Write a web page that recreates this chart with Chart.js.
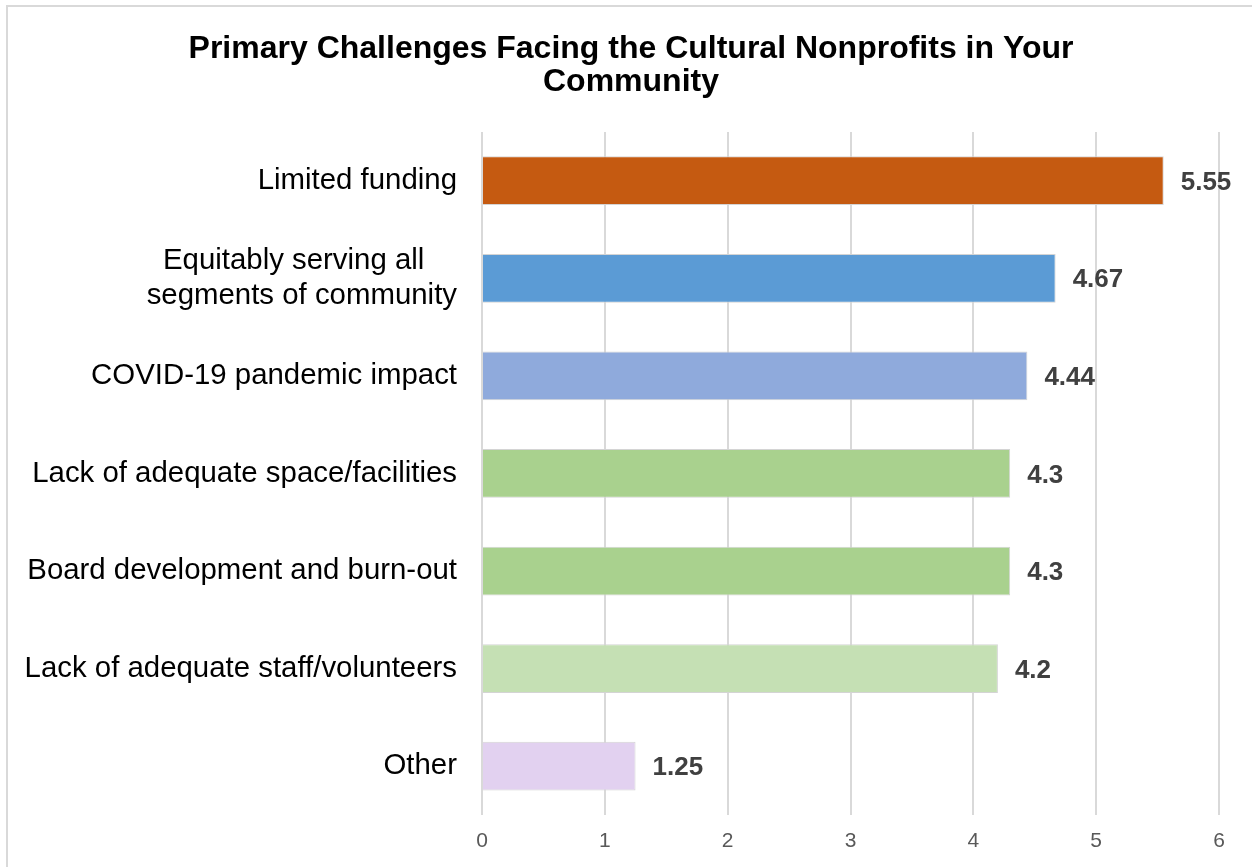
<!DOCTYPE html>
<html>
<head>
<meta charset="utf-8">
<script src="https://cdn.jsdelivr.net/npm/chart.js@4"></script>
<style>
  html, body { margin: 0; padding: 0; background: #fff; overflow: hidden; }
  #wrap { position: relative; width: 1252px; height: 867px; }
  #frame { position: absolute; left: 6px; top: 5px; width: 1300px; height: 900px;
           border: 2px solid #d9d9d9; pointer-events: none; }
</style>
</head>
<body>
<div id="wrap">
  <canvas id="myChart" width="1252" height="867"></canvas>
  <div id="frame"></div>
</div>
<script>
// categories (top to bottom) and their scores
let categories = [
    "Limited funding",
    ["Equitably serving all    ", "segments of community"],
    "COVID-19 pandemic impact",
    "Lack of adequate space/facilities",
    "Board development and burn-out",
    "Lack of adequate staff/volunteers",
    "Other"
];
let scores = [5.55, 4.67, 4.44, 4.3, 4.3, 4.2, 1.25];
let barColors = ["#C55A11", "#5B9BD5", "#8FAADC", "#A9D18E", "#A9D18E", "#C5E0B4", "#E2D1F0"];
let xTicks = [0, 1, 2, 3, 4, 5, 6];

// draws the number at the end of each bar
const valueLabels = {
    id: 'valueLabels',
    afterDatasetsDraw(chart) {
        let ctx = chart.ctx;
        let meta = chart.getDatasetMeta(0);
        ctx.save();
        ctx.font = "bold 26px 'Liberation Sans', Arial, sans-serif";
        ctx.fillStyle = "#404040";
        ctx.textAlign = "left";
        ctx.textBaseline = "middle";
        meta.data.forEach((bar, i) => {
            ctx.fillText(String(scores[i]), bar.x + 17, bar.y + 2);
        });
        ctx.restore();
    }
};

window.onload = function () {
    var ctx = document.getElementById('myChart').getContext('2d');
    var chart = new Chart(ctx, {
        type: 'bar',
        data: {
            labels: categories,
            datasets: [{
                data: scores,
                backgroundColor: barColors,
                borderColor: "#d4d4d4",
                borderWidth: 1,
                barPercentage: 0.5,
                categoryPercentage: 1
            }]
        },
        plugins: [valueLabels],
        options: {
            indexAxis: 'y',
            responsive: false,
            animation: false,
            layout: { padding: { left: 10, right: 0, top: 0, bottom: 0 } },
            plugins: {
                legend: { display: false },
                tooltip: { enabled: false },
                title: {
                    display: true,
                    text: ["Primary Challenges Facing the Cultural Nonprofits in Your", "Community"],
                    color: "#000",
                    font: { family: "'Liberation Sans', Arial, sans-serif", size: 32, weight: 'bold', lineHeight: 1.03 },
                    padding: { top: 33, bottom: 33 }
                }
            },
            scales: {
                x: {
                    min: 0,
                    max: 6,
                    afterBuildTicks: scale => { scale.ticks = xTicks.map(v => ({ value: v })); },
                    afterFit: scale => { scale.height = 52; },
                    grid: { color: "#d9d9d9", lineWidth: 2, drawTicks: false },
                    border: { display: false },
                    ticks: {
                        color: "#595959",
                        padding: 14,
                        font: { family: "'Liberation Sans', Arial, sans-serif", size: 21 }
                    }
                },
                y: {
                    grid: { display: false },
                    border: { display: false },
                    afterFit: scale => { scale.width = 472; },
                    ticks: {
                        color: "#000",
                        padding: 17,
                        autoSkip: false,
                        font: { family: "'Liberation Sans', Arial, sans-serif", size: 29.4, lineHeight: 1.17 }
                    }
                },
                // empty right-hand spacer so the plot ends at the same place as the original
                spacer: {
                    type: 'linear',
                    position: 'right',
                    grid: { display: false },
                    border: { display: false },
                    ticks: { display: false },
                    afterFit: scale => { scale.width = 33; }
                }
            }
        }
    });
};
</script>
</body>
</html>
